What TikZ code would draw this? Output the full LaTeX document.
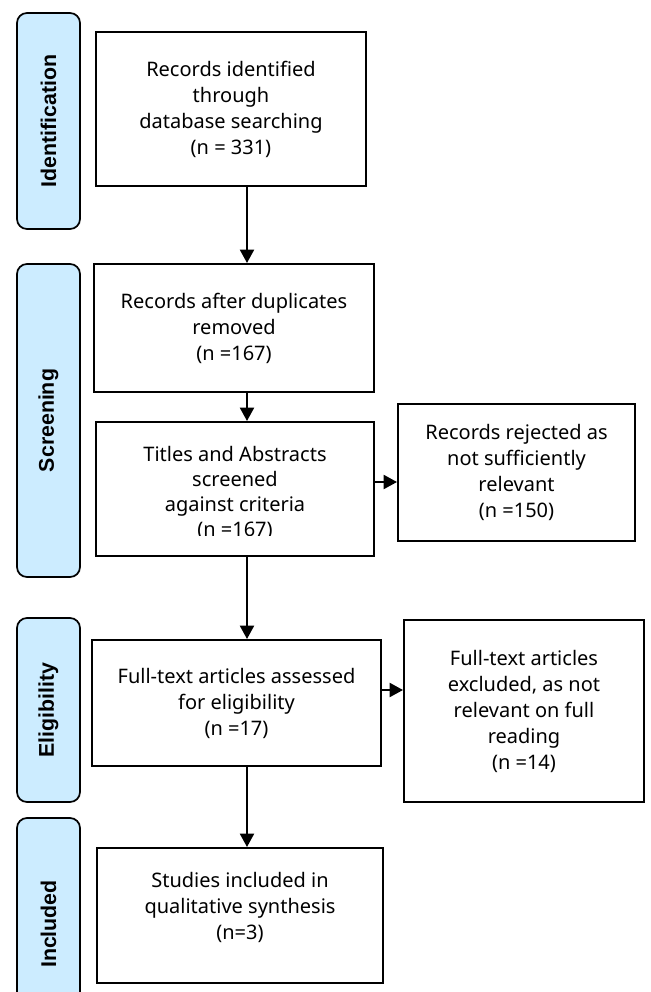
\documentclass[tikz,border=0pt]{standalone}
\usepackage{fontspec}
\setmainfont{Noto Sans}
\newfontfamily\lblfont{Liberation Sans}
\usetikzlibrary{arrows.meta}
\definecolor{lblue}{RGB}{204,236,255}
\begin{document}
\begin{tikzpicture}[x=0.75pt,y=-0.75pt,
  txt/.style={align=center, inner sep=0pt, font=\fontsize{15}{19.5}\selectfont},
  box/.style={txt, draw=black, line width=1.5pt, fill=white},
  phase/.style={draw=black, line width=1.3pt, fill=lblue, rounded corners=7.5pt,
    inner sep=0pt, rotate=90, minimum height=47.25pt,
    font=\lblfont\bfseries\fontsize{16}{18}\selectfont},
  arr/.style={line width=1.5pt, -{Triangle[length=10pt,width=10.5pt]}}]
\useasboundingbox (0,0) rectangle (650,992);
\clip (0,0) rectangle (650,992);
% phase labels
\node[phase, minimum width=162pt] (L1) at (48.5,121) {Identification};
\node[phase, minimum width=234.75pt] (L2) at (48.5,420.5) {Screening};
\node[phase, minimum width=138pt] (L3) at (48.5,710) {Eligibility};
\node[phase, minimum width=159pt] (L4) at (48.5,924) {Included};
% boxes
\node[box, minimum width=202.5pt, minimum height=115.5pt] (b1) at (231,109)
  {Records identified\\through\\database searching\\(n = 331)};
\node[box, minimum width=210pt, minimum height=96pt] (b2) at (234,328)
  {Records after duplicates\\removed\\(n =167)};
\node[box, minimum width=208.5pt, minimum height=100.5pt] (b3) at (235,489) {};
\begin{scope}
  \clip (96,422) rectangle (374,535);
  \node[txt, font=\fontsize{15}{18.75}\selectfont] (t3) at (235,492.5)
    {Titles and Abstracts\\screened\\against criteria\\(n =167)};
\end{scope}
\node[box, minimum width=177.75pt, minimum height=102.75pt] (r1) at (516.5,472.5)
  {Records rejected as\\not sufficiently\\relevant\\(n =150)};
\node[box, minimum width=216.75pt, minimum height=94.5pt] (b4) at (236.5,703)
  {Full-text articles assessed\\for eligibility\\(n =17)};
\node[box, minimum width=180pt, minimum height=136.5pt] (r2) at (524,711)
  {Full-text articles\\excluded, as not\\relevant on full\\reading\\(n =14)};
\node[box, minimum width=214.5pt, minimum height=101.25pt] (b5) at (240,915.5)
  {Studies included in\\qualitative synthesis\\(n=3)\\[-5pt]\mbox{}};
% connectors
\coordinate (ax) at (247,0);
\coordinate (h1) at (0,482);
\coordinate (h2) at (0,690);
\draw[arr] (b1.south -| ax) -- (b2.north -| ax);
\draw[arr] (b2.south -| ax) -- (b3.north -| ax);
\draw[arr] (b3.south -| ax) -- (b4.north -| ax);
\draw[arr] (b4.south -| ax) -- (b5.north -| ax);
\draw[arr] (b3.east |- h1) -- (r1.west |- h1);
\draw[arr] (b4.east |- h2) -- (r2.west |- h2);
\end{tikzpicture}
\end{document}
